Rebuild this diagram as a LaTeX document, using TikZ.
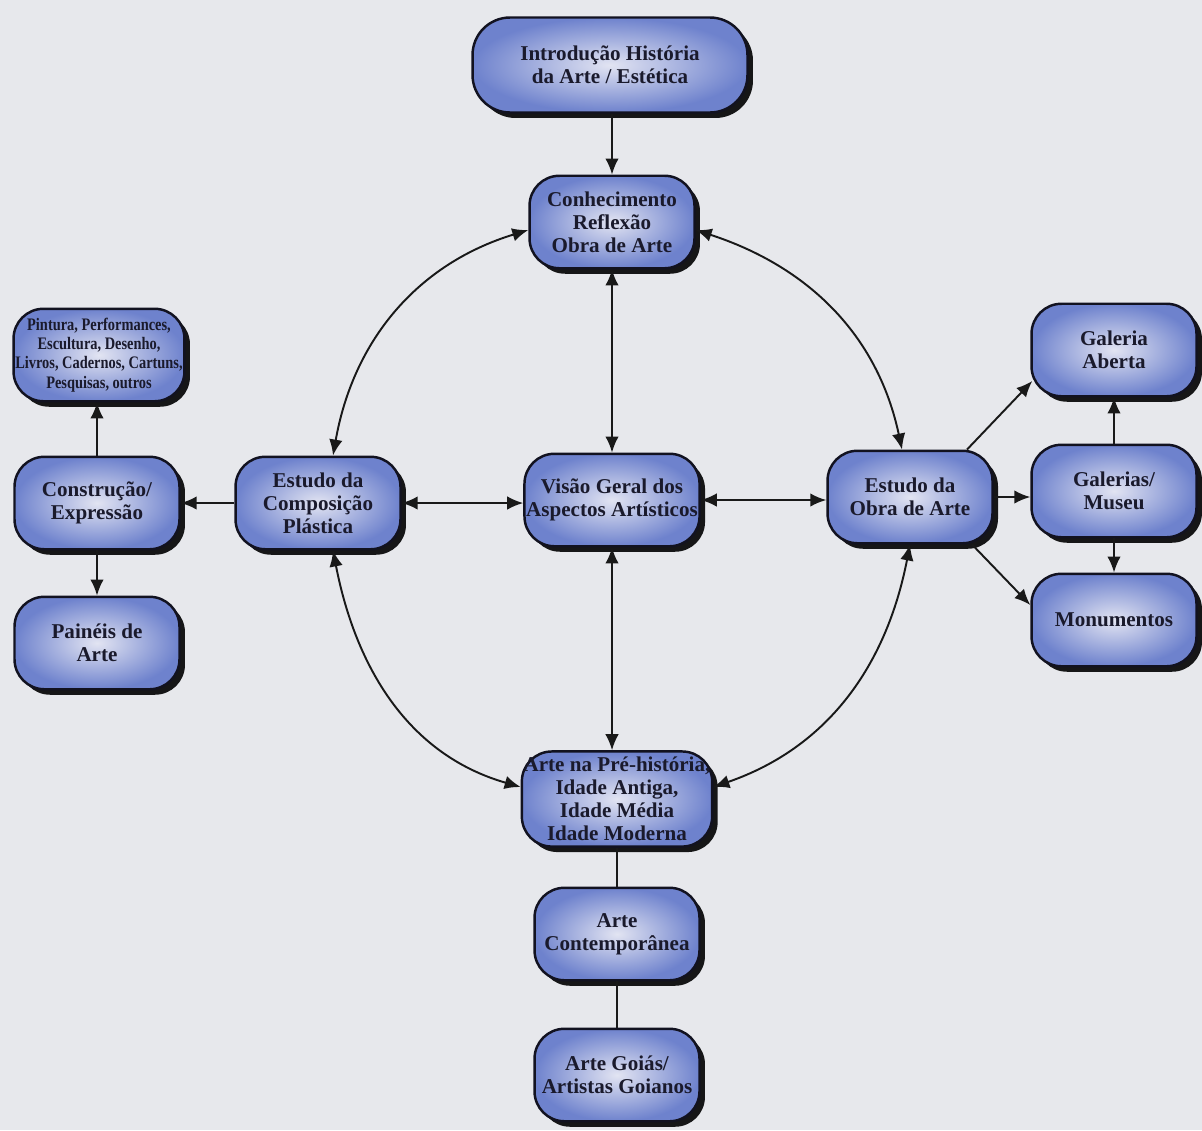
\documentclass[tikz,border=0pt]{standalone}
\usepackage{fontspec}
\setmainfont{Liberation Serif}
\newfontfamily\condfont[FakeStretch=0.82]{Liberation Serif}
\usetikzlibrary{arrows.meta,shadows,calc}
\definecolor{bgcol}{RGB}{231,232,236}
\definecolor{boxin}{RGB}{226,228,242}
\definecolor{boxout}{RGB}{110,130,205}
\definecolor{boxline}{RGB}{18,18,32}
\definecolor{txt}{RGB}{26,26,44}
\tikzset{
  box/.style={draw=boxline, line width=1.4pt, rounded corners=0.6cm,
    shading=radial, inner color=boxin, outer color=boxout,
    minimum width=3.3cm, minimum height=1.85cm, inner xsep=1pt,
    align=center, text=txt, font=\bfseries\fontsize{12}{13}\selectfont,
    drop shadow={shadow xshift=0.11cm, shadow yshift=-0.11cm, fill=black, opacity=0.9}},
  conn/.style={line width=1.1pt, draw=black!90},
  >={Latex[length=3.2mm,width=2.7mm]}
}
\begin{document}
\begin{tikzpicture}[x=0.02cm,y=-0.02cm]
\fill[bgcol] (0,0) rectangle (1202,1130);
\useasboundingbox (0,0) rectangle (1202,1130);

\node[box, minimum width=5.5cm, minimum height=1.9cm, rounded corners=0.75cm] (intro) at (610,65) {Introdução História\\da Arte / Estética};
\node[box] (conh) at (612,222) {Conhecimento\\Reflexão\\Obra de Arte};
\node[box] (visao) at (612,500) {Visão Geral dos\\Aspectos Artísticos};
\node[box] (comp) at (318,503) {Estudo da\\Composição\\Plástica};
\node[box] (constr) at (97,503) {Construção/\\Expressão};
\node[box, minimum width=3.4cm, font=\condfont\bfseries\fontsize{10}{11}\selectfont] (pint) at (99,355) {Pintura, Performances,\\Escultura, Desenho,\\Livros, Cadernos, Cartuns,\\Pesquisas, outros};
\node[box] (pain) at (97,643) {Painéis de\\Arte};
\node[box] (obra) at (910,497) {Estudo da\\Obra de Arte};
\node[box] (ga) at (1114,350) {Galeria\\Aberta};
\node[box] (gm) at (1114,491) {Galerias/\\Museu};
\node[box] (mon) at (1114,620) {Monumentos};
\node[box] (pre) at (617,799) {Arte na Pré-história,\\Idade Antiga,\\Idade Média\\Idade Moderna};
\node[box] (cont) at (617,934) {Arte\\Contemporânea};
\node[box] (goias) at (617,1075) {Arte Goiás/\\Artistas Goianos};

% straight connectors
\draw[conn,->] (intro.south -| conh.north) -- (conh.north);
\draw[conn,<->] (conh.south) -- (conh.south |- visao.north);
\draw[conn,<->] (visao.south) -- (visao.south |- pre.north);
\draw[conn,<->] (comp.east) -- (comp.east -| visao.west);
\draw[conn,<->] (visao.east) -- (visao.east -| obra.west);
\draw[conn,->] (comp.west) -- (comp.west -| constr.east);
\draw[conn,->] (constr.north) -- (constr.north |- pint.south);
\draw[conn,->] (constr.south) -- (constr.south |- pain.north);
\draw[conn,->] ($(obra.north)+(57,0)$) -- ($(ga.west)+(2,31)$);
\draw[conn,->] (obra.east) -- (obra.east -| gm.west);
\draw[conn,->] ($(obra.south)+(62,0)$) -- ($(mon.west)+(0,-15)$);
\draw[conn,->] (gm) -- (ga);
\draw[conn,->] (gm) -- (mon);
\draw[conn] (pre) -- (cont);
\draw[conn] (cont) -- (goias);

% curved connectors
\draw[conn,<->] ($(conh.west)+(0,8)$) to[out=197,in=80] ($(comp.north)+(15,0)$);
\draw[conn,<->] ($(conh.east)+(0,8)$) to[out=-18,in=102] ($(obra.north)+(-8,0)$);
\draw[conn,<->] ($(comp.south)+(15,0)$) to[out=-79,in=164] ($(pre.west)+(0,-12)$);
\draw[conn,<->] (obra.south) to[out=-101,in=19] ($(pre.east)+(0,-12)$);
\end{tikzpicture}
\end{document}
